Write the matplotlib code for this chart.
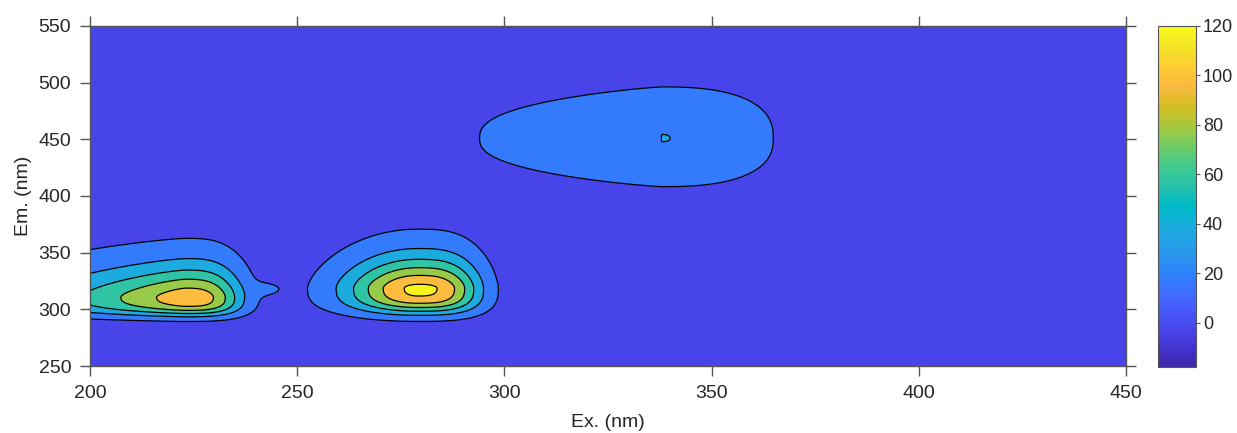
import numpy as np
import matplotlib
matplotlib.use('Agg')
import matplotlib.pyplot as plt
from matplotlib.colors import LinearSegmentedColormap, Normalize
from matplotlib.cm import ScalarMappable

plt.rcParams.update({'font.family': ['Liberation Sans', 'DejaVu Sans']})
plt.rcParams.update({'font.size': 14})

#%% parula colour table (64 steps)
parula_rgb = [
    [0.2422, 0.1504, 0.6603], [0.2504, 0.1650, 0.7076], [0.2578, 0.1818, 0.7511], [0.2647, 0.1978, 0.7952],
    [0.2706, 0.2147, 0.8364], [0.2751, 0.2342, 0.8710], [0.2783, 0.2559, 0.8991], [0.2803, 0.2782, 0.9221],
    [0.2813, 0.3006, 0.9414], [0.2810, 0.3228, 0.9579], [0.2795, 0.3447, 0.9717], [0.2760, 0.3667, 0.9829],
    [0.2699, 0.3892, 0.9906], [0.2602, 0.4123, 0.9952], [0.2440, 0.4358, 0.9988], [0.2206, 0.4603, 0.9973],
    [0.1963, 0.4847, 0.9892], [0.1834, 0.5074, 0.9798], [0.1786, 0.5289, 0.9682], [0.1764, 0.5499, 0.9520],
    [0.1687, 0.5703, 0.9359], [0.1540, 0.5902, 0.9218], [0.1460, 0.6091, 0.9079], [0.1380, 0.6276, 0.8973],
    [0.1248, 0.6459, 0.8883], [0.1113, 0.6635, 0.8763], [0.0952, 0.6798, 0.8598], [0.0689, 0.6948, 0.8394],
    [0.0297, 0.7082, 0.8163], [0.0036, 0.7203, 0.7917], [0.0067, 0.7312, 0.7660], [0.0433, 0.7411, 0.7394],
    [0.0964, 0.7500, 0.7120], [0.1408, 0.7584, 0.6842], [0.1717, 0.7670, 0.6554], [0.1938, 0.7758, 0.6251],
    [0.2161, 0.7843, 0.5923], [0.2470, 0.7918, 0.5567], [0.2906, 0.7973, 0.5188], [0.3406, 0.8008, 0.4789],
    [0.3909, 0.8029, 0.4354], [0.4456, 0.8024, 0.3909], [0.5044, 0.7993, 0.3480], [0.5616, 0.7942, 0.3045],
    [0.6174, 0.7876, 0.2612], [0.6720, 0.7793, 0.2227], [0.7242, 0.7698, 0.1910], [0.7738, 0.7598, 0.1646],
    [0.8203, 0.7498, 0.1535], [0.8634, 0.7406, 0.1596], [0.9035, 0.7330, 0.1774], [0.9393, 0.7288, 0.2100],
    [0.9728, 0.7298, 0.2394], [0.9956, 0.7434, 0.2371], [0.9970, 0.7659, 0.2199], [0.9952, 0.7893, 0.2028],
    [0.9892, 0.8136, 0.1885], [0.9786, 0.8386, 0.1766], [0.9676, 0.8639, 0.1643], [0.9610, 0.8890, 0.1537],
    [0.9597, 0.9135, 0.1423], [0.9628, 0.9373, 0.1265], [0.9691, 0.9606, 0.1064], [0.9769, 0.9839, 0.0805]]
parula = LinearSegmentedColormap.from_list('parula', parula_rgb)

#%% data: EEM peaks
# peak positions (nm), intensity and half widths on each side
peak_ex     = [223, 243, 279, 338]
peak_em     = [311, 318, 319, 451]
peak_height = [103, 10, 114, 30.05]
sig_left    = [19, 3, 12, 22.8]
sig_right   = [10.5, 3, 11.5, 19.6]
sig_down    = [13, 5, 17.5, 31.2]
sig_up      = [18.5, 5, 18, 33]
pow_left    = [1.3, 2, 2, 1.2]
pow_right   = [3, 2, 3, 2.5]
pow_down    = [3, 2, 3, 2.5]
pow_up      = [1.5, 2, 1.5, 2.5]

# contour levels and colour value of each filled band
levels = [-20, 10, 30, 50, 70, 90, 110, 130]
band_values = [-3, 17, 37, 57, 77, 97, 117]
cbar_ticks = [0, 20, 40, 60, 80, 100, 120]
cmin, cmax = -18, 120

ex = np.arange(200, 451, 1.0)
em = np.arange(250, 551, 1.0)
EX, EM = np.meshgrid(ex, em)

Z = np.zeros_like(EX)
for i in range(len(peak_ex)):
    dx = EX - peak_ex[i]
    dy = EM - peak_em[i]
    sx = np.where(dx < 0, sig_left[i], sig_right[i])
    px = np.where(dx < 0, pow_left[i], pow_right[i])
    sy = np.where(dy < 0, sig_down[i], sig_up[i])
    py = np.where(dy < 0, pow_down[i], pow_up[i])
    Z += peak_height[i] * np.exp(-0.5 * np.abs(dx / sx)**px) * np.exp(-0.5 * np.abs(dy / sy)**py)

#%% plot
norm = Normalize(cmin, cmax)
band_colors = [parula(norm(v)) for v in band_values]

fig = plt.figure(figsize=(12.37, 4.33), dpi=100)
ax = fig.add_axes([0.0728, 0.1547, 0.8375, 0.7853])
ax.contourf(EX, EM, Z, levels=levels, colors=band_colors)
ax.contour(EX, EM, Z, levels=levels[1:-1], colors='k', linewidths=0.9)
ax.set_xlim((200, 450))
ax.set_ylim((250, 550))
ax.set_xticks([200, 250, 300, 350, 400, 450])
ax.set_yticks([250, 300, 350, 400, 450, 500, 550])
ax.tick_params(direction='out', top=True, right=True, length=7.5, width=1,
               color='#555555', labelsize=14, labelcolor='#262626', pad=6)
for s in ax.spines.values():
    s.set_color('#555555')
    s.set_linewidth(1)
ax.set_xlabel('Ex. (nm)', fontsize=14, color='#262626', labelpad=9)
ax.set_ylabel('Em. (nm)', fontsize=14, color='#262626', labelpad=5)

cax = fig.add_axes([0.9362, 0.1524, 0.0307, 0.7876])
cb = fig.colorbar(ScalarMappable(norm=norm, cmap=parula), cax=cax, ticks=cbar_ticks)
cb.outline.set_edgecolor('#555555')
cb.outline.set_linewidth(0.8)
cax.tick_params(direction='out', length=3, color='#555555', labelsize=13,
                labelcolor='#262626', pad=2)

fig.savefig('out.png', dpi=100)
